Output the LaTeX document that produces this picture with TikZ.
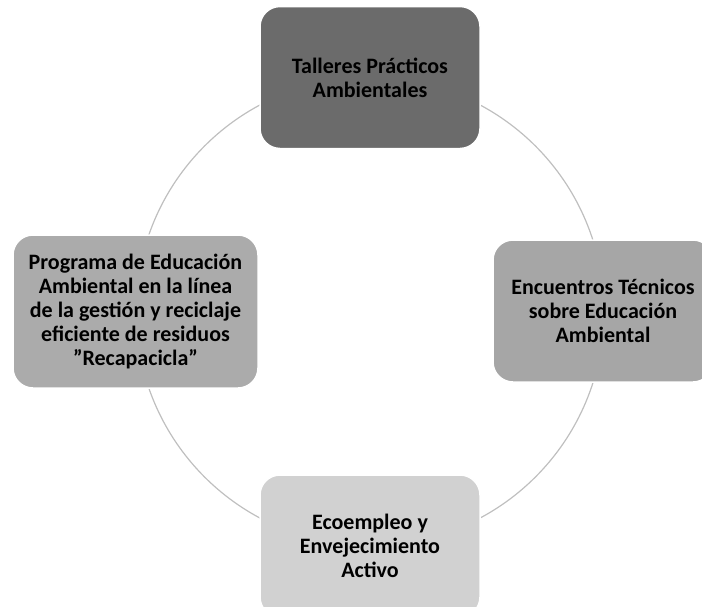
\documentclass[tikz,border=0pt]{standalone}
\usepackage{fontspec}
\setmainfont{Carlito}
\usepackage{tikz}

\begin{document}
\begin{tikzpicture}[x=1pt,y=-1pt,
    caja/.style={rounded corners=20pt, draw=white, line width=1.5pt,
      minimum width=220pt, minimum height=142pt, align=center,
      font=\fontsize{22}{24}\selectfont\bfseries, text=black}]
  % cycle of four actions round one circle, 1pt = 1px of the original
  \useasboundingbox (0,0) rectangle (702,606);
  \coordinate (centro) at (370,311.5);
  \draw[black!25, line width=1.2pt] (centro) circle[radius=234pt];
  \node[caja, fill=black!58] (talleres) at (370,77.5) {Talleres Prácticos\\Ambientales};
  \node[caja, fill=black!35] (encuentros) at (603,311) {Encuentros Técnicos\\sobre Educación\\Ambiental};
  \node[caja, fill=black!18] (ecoempleo) at (370,546) {Ecoempleo y\\Envejecimiento\\Activo};
  \node[caja, fill=black!33, minimum width=245pt, minimum height=153pt] (programa) at (135.5,311.5)
    {Programa de Educación\\Ambiental en la línea\\de la gestión y reciclaje\\eficiente de residuos\\”Recapacicla”};
\end{tikzpicture}
\end{document}
